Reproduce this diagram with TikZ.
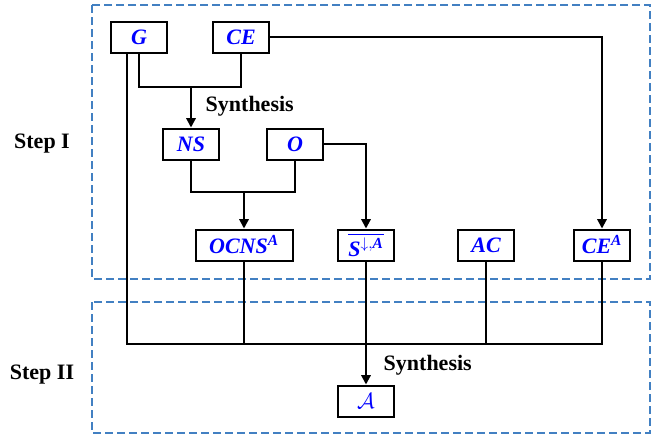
\RequirePackage{fix-cm}
\documentclass[tikz,border=0pt]{standalone}
\usepackage{amsmath}
\usepackage{fontspec}
\setmainfont{Liberation Serif}
\usepackage{xcolor}
\usepackage{tikz}
\usetikzlibrary{arrows.meta}

\definecolor{stepblue}{RGB}{66,128,194}
\definecolor{labelblue}{RGB}{0,0,255}

\tikzset{
    box/.style={draw, line width=1.5pt, fill=white, minimum width=42pt,
        minimum height=23.25pt, inner sep=1pt, text=labelblue,
        font=\fontsize{16.5}{19}\selectfont\bfseries\itshape},
    link/.style={line width=1.5pt},
    flow/.style={line width=1.5pt, -{Triangle[length=7pt,width=7pt]}},
    steparea/.style={draw=stepblue, line width=1.1pt, dash pattern=on 6pt off 3pt},
    steplabel/.style={font=\fontsize{16.5}{19}\selectfont\bfseries}
}

\begin{document}
\begin{tikzpicture}[x=0.75pt, y=-0.75pt]
    \useasboundingbox (0, 0) rectangle (667, 436);

    % step areas
    \draw[steparea] (92, 5) rectangle (650, 279);
    \draw[steparea] (92, 302) rectangle (650, 433);
    \node[steplabel] (stepI) at (42, 144) {Step I};
    \node[steplabel] (stepII) at (42, 375) {Step II};

    % boxes
    \node[box] (g) at (139, 37) {G};
    \node[box] (ce) at (241, 37) {CE};
    \node[box] (ns) at (191, 144) {NS};
    \node[box] (o) at (295, 144) {O};
    \node[box, minimum width=72.75pt] (ocns) at (244, 245) {OCNS\textsuperscript{A}};
    \node[box] (sbar) at (366, 245) {$\overline{\textbf{\textit{S}}^{\downarrow,\textbf{\textit{A}}}}$};
    \node[box] (ac) at (486, 245) {AC};
    \node[box] (cea) at (602, 245) {CE\textsuperscript{A}};
    \node[box] (result) at (366, 401) {$\mathcal{A}$};

    \coordinate (synth1) at (191, 87);
    \coordinate (merge2) at (244, 192);
    \coordinate (gleft) at ([xshift=-9pt]g.south);
    \coordinate (bus) at (366, 344);

    % step I
    \draw[link] (g.south) |- (synth1) -| (ce.south);
    \draw[flow] (synth1) -- (ns.north);
    \node[steplabel, anchor=west] (syn1) at (201, 106) {Synthesis};
    \draw[link] (ns.south) |- (merge2) -| (o.south);
    \draw[flow] (merge2) -- (ocns.north);
    \draw[flow] (o.east) -| (sbar.north);
    \draw[flow] (ce.east) -| (cea.north);

    % step II
    \draw[link] (gleft) |- (bus) -| (cea.south);
    \draw[link] (ocns.south) -- (ocns.south |- bus);
    \draw[link] (ac.south) -- (ac.south |- bus);
    \draw[flow] (sbar.south) -- (result.north);
    \node[steplabel, anchor=west] (syn2) at (379, 365) {Synthesis};
\end{tikzpicture}
\end{document}
